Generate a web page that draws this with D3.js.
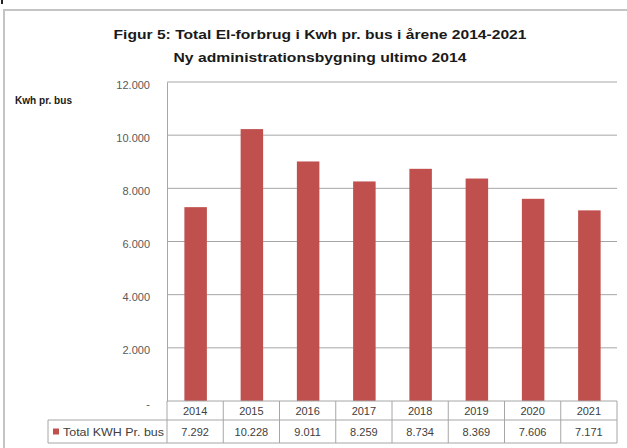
<!DOCTYPE html>
<html>
<head>
<meta charset="utf-8">
<script src="https://cdn.jsdelivr.net/npm/d3@7"></script>
<style>
  body { margin: 0; background: #fff; }
  svg { display: block; }
</style>
</head>
<body>
<svg id="chart" width="627" height="448"></svg>
<script>
// data
var years = ['2014', '2015', '2016', '2017', '2018', '2019', '2020', '2021'];
var kwhPerBus = [7292, 10228, 9011, 8259, 8734, 8369, 7606, 7171];
var yTicks = [0, 2000, 4000, 6000, 8000, 10000, 12000];
var seriesName = 'Total KWH Pr. bus';
var titleLines = ['Figur 5: Total El-forbrug i Kwh pr. bus i årene 2014-2021',
                  'Ny administrationsbygning ultimo 2014'];
var yLabel = 'Kwh pr. bus';

var barColor = '#C0504D';
var gridColor = '#a6a6a6';
var textColor = '#404040';
var font = '"Liberation Sans", Arial, sans-serif';

var locale = d3.formatLocale({ decimal: ',', thousands: '.', grouping: [3], currency: ['', ' kr'] });
var fmt = locale.format(',.0f');
var tickFmt = function (d) { return d === 0 ? '-' : fmt(d); };

var svg = d3.select('#chart');
var plot = { left: 167, right: 617, top: 82, bottom: 401 };
var row1 = 420, row2 = 443, legendLeft = 48;

// outer chart frame
svg.append('rect')
    .attr('x', 4).attr('y', 10)
    .attr('width', 660).attr('height', 460)
    .attr('fill', '#fff')
    .attr('stroke', '#c4c4c4')
    .attr('stroke-width', 2);
svg.append('rect')
    .attr('x', 1).attr('y', 0).attr('width', 2).attr('height', 4)
    .attr('fill', '#222');

var x = d3.scaleBand().domain(years).range([plot.left, plot.right]).padding(0);
var y = d3.scaleLinear().domain([0, 12000]).range([plot.bottom, plot.top]);

// gridlines
svg.append('g')
    .selectAll('line')
    .data(yTicks.filter(function (d) { return d > 0; }))
    .enter().append('line')
    .attr('x1', plot.left).attr('x2', plot.right)
    .attr('y1', function (d) { return y(d); })
    .attr('y2', function (d) { return y(d); })
    .attr('stroke', gridColor).attr('stroke-width', 1);

// y axis
var yAxis = d3.axisLeft(y).tickValues(yTicks).tickFormat(tickFmt).tickSize(0).tickPadding(17);
var gy = svg.append('g').attr('transform', 'translate(' + plot.left + ',0)').call(yAxis);
gy.select('.domain').attr('stroke', gridColor);
gy.selectAll('text')
    .attr('font-family', font).attr('font-size', 11)
    .attr('fill', '#595959').attr('dy', '0.55em');

// bars
var barW = x.bandwidth() * 0.4;
svg.append('g')
    .selectAll('rect')
    .data(kwhPerBus)
    .enter().append('rect')
    .attr('x', function (d, i) { return x(years[i]) + (x.bandwidth() - barW) / 2 + 0.5; })
    .attr('y', function (d) { return y(d); })
    .attr('width', barW)
    .attr('height', function (d) { return y(0) - y(d); })
    .attr('fill', barColor);

// data table under the plot
var table = svg.append('g').attr('stroke', gridColor).attr('stroke-width', 1).attr('fill', 'none');
table.append('line').attr('x1', plot.left).attr('x2', plot.right).attr('y1', plot.bottom).attr('y2', plot.bottom);
table.append('line').attr('x1', legendLeft).attr('x2', plot.right).attr('y1', row1).attr('y2', row1);
table.append('line').attr('x1', legendLeft).attr('x2', plot.right).attr('y1', row2).attr('y2', row2);
table.append('line').attr('x1', legendLeft).attr('x2', legendLeft).attr('y1', row1).attr('y2', row2);
table.selectAll('.vline')
    .data(years.concat(['end']))
    .enter().append('line')
    .attr('class', 'vline')
    .attr('x1', function (d, i) { return plot.left + i * x.step(); })
    .attr('x2', function (d, i) { return plot.left + i * x.step(); })
    .attr('y1', plot.bottom).attr('y2', row2);

svg.append('g')
    .selectAll('text')
    .data(years)
    .enter().append('text')
    .attr('x', function (d) { return x(d) + x.bandwidth() / 2; })
    .attr('y', (plot.bottom + row1) / 2 + 4)
    .attr('text-anchor', 'middle')
    .attr('font-family', font).attr('font-size', 11).attr('fill', textColor)
    .text(function (d) { return d; });

svg.append('g')
    .selectAll('text')
    .data(kwhPerBus)
    .enter().append('text')
    .attr('x', function (d, i) { return x(years[i]) + x.bandwidth() / 2; })
    .attr('y', (row1 + row2) / 2 + 4)
    .attr('text-anchor', 'middle')
    .attr('font-family', font).attr('font-size', 11).attr('fill', textColor)
    .text(function (d) { return fmt(d); });

// legend key in table
svg.append('rect')
    .attr('x', 53).attr('y', (row1 + row2) / 2 - 3)
    .attr('width', 6).attr('height', 6)
    .attr('fill', barColor);
svg.append('text')
    .attr('x', 63).attr('y', (row1 + row2) / 2 + 4)
    .attr('font-family', font).attr('font-size', 10.5).attr('fill', textColor)
    .attr('textLength', 101).attr('lengthAdjust', 'spacingAndGlyphs')
    .text(seriesName);

// titles
svg.append('g')
    .selectAll('text')
    .data(titleLines)
    .enter().append('text')
    .attr('x', 320)
    .attr('y', function (d, i) { return 39 + i * 23; })
    .attr('text-anchor', 'middle')
    .attr('font-family', font).attr('font-weight', 'bold').attr('font-size', 13.5)
    .attr('fill', '#1a1a1a')
    .attr('textLength', function (d, i) { return i === 0 ? 413 : 293; })
    .attr('lengthAdjust', 'spacingAndGlyphs')
    .text(function (d) { return d; });

svg.append('text')
    .attr('x', 15).attr('y', 104)
    .attr('font-family', font).attr('font-weight', 'bold').attr('font-size', 10)
    .attr('fill', '#1a1a1a')
    .attr('textLength', 57).attr('lengthAdjust', 'spacingAndGlyphs')
    .text(yLabel);
</script>
</body>
</html>
